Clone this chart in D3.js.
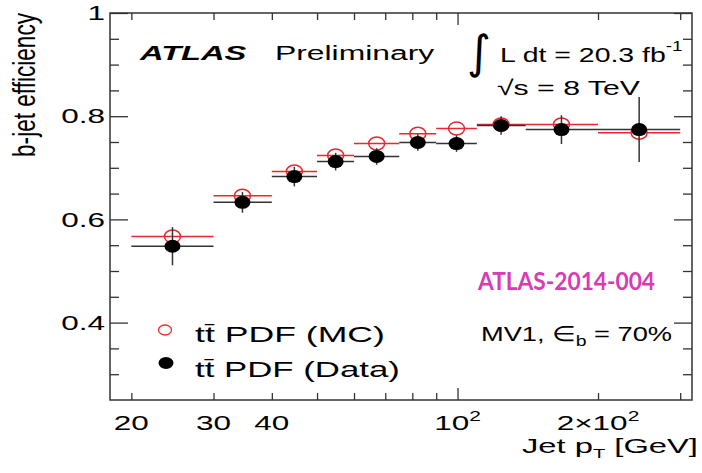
<!DOCTYPE html>
<html lang="en">
<head>
<meta charset="UTF-8">
<title>b-jet efficiency vs jet pT</title>
<script src="https://cdn.jsdelivr.net/npm/d3@7"></script>
<style>
  body { margin: 0; background: #fff; }
  svg { display: block; font-family: "Liberation Sans", Arial, sans-serif; }
</style>
</head>
<body>
<svg width="702" height="473"></svg>
<script>
// jet pT bins [GeV] and efficiencies
var binLo = [20, 30, 40, 50, 60, 75, 90, 110, 140, 200]
var binHi = [30, 40, 50, 60, 75, 90, 110, 140, 200, 300]
var binMid = [24.5, 34.6, 44.7, 54.8, 67.1, 82.2, 99.5, 124, 167, 245]
var dataEff = [0.548, 0.633, 0.683, 0.712, 0.722, 0.749, 0.747, 0.782, 0.774, 0.774]
var dataErr = [0.037, 0.020, 0.019, 0.017, 0.016, 0.016, 0.016, 0.018, 0.028, 0.063]
var mcEff = [0.567, 0.646, 0.693, 0.724, 0.747, 0.766, 0.776, 0.784, 0.784, 0.768]

var yMajor = [0.4, 0.6, 0.8, 1]
var yMinor = [0.3, 0.35, 0.45, 0.5, 0.55, 0.65, 0.7, 0.75, 0.85, 0.9, 0.95]
var xMajor = [100]
var xMinor = [20, 30, 40, 50, 60, 70, 80, 90, 200, 300]
var xLabelVals = [20, 30, 40, 100, 200]
var xLabelBase = ["20", "30", "40", "10", "2\u00d710"]
var xLabelSup = ["", "", "", "2", "2"]

var frame = { left: 110, right: 692, top: 13, bottom: 400 }
var ink = '#333'
var red = '#e8282e'
var sx = 1.5   // the source picture is stretched sideways

var svg = d3.select('svg')
svg.append('rect').attr('width', 702).attr('height', 473).attr('fill', '#fff')

var x = d3.scaleLog().domain([18, 318]).range([frame.left, frame.right])
var y = d3.scaleLinear().domain([0.25, 1]).range([frame.bottom, frame.top])

function ticks(axis, tx, ty) {
    var g = svg.append('g')
        .attr('transform', `translate(${tx},${ty})`)
        .call(axis)
    g.select('.domain').remove()
    g.selectAll('line').attr('stroke', ink).attr('stroke-width', 1.3)
    return g
}

// ticks on all four sides, pointing inward
ticks(d3.axisLeft(y).tickValues(yMinor).tickSize(-9).tickFormat(''), frame.left, 0)
ticks(d3.axisRight(y).tickValues(yMinor).tickSize(-9).tickFormat(''), frame.right, 0)
ticks(d3.axisRight(y).tickValues(yMajor).tickSize(-18).tickFormat(''), frame.right, 0)
var yl = ticks(d3.axisLeft(y).tickValues(yMajor).tickSize(-18).tickPadding(5)
    .tickFormat(d => d === 1 ? '1' : d3.format('.1f')(d)), frame.left, 0)
yl.selectAll('text')
    .attr('font-size', 21)
    .attr('fill', '#000')
    .attr('font-family', '"Liberation Sans", Arial, sans-serif')
    .attr('x', -5 / sx)
    .attr('transform', `scale(${sx},1)`)

ticks(d3.axisBottom(x).tickValues(xMinor).tickSize(-7).tickFormat(''), 0, frame.bottom)
ticks(d3.axisBottom(x).tickValues(xMajor).tickSize(-12).tickFormat(''), 0, frame.bottom)
ticks(d3.axisTop(x).tickValues(xMinor).tickSize(-7).tickFormat(''), 0, frame.top)
ticks(d3.axisTop(x).tickValues(xMajor).tickSize(-12).tickFormat(''), 0, frame.top)

svg.append('rect')
    .attr('x', frame.left).attr('y', frame.top)
    .attr('width', frame.right - frame.left).attr('height', frame.bottom - frame.top)
    .attr('fill', 'none').attr('stroke', ink).attr('stroke-width', 1.5)

// x tick labels with superscripts
xLabelVals.forEach((v, i) => {
    var t = svg.append('text')
        .attr('transform', `translate(${x(v)},430) scale(${sx},1)`)
        .attr('text-anchor', 'middle')
        .attr('font-size', 21)
        .attr('fill', '#000')
    t.append('tspan').text(xLabelBase[i])
    if (xLabelSup[i]) t.append('tspan').attr('dy', -9).attr('font-size', 14).text(xLabelSup[i])
})

// MC: red horizontal bars + open circles
svg.selectAll('.mcbar').data(mcEff).join('line')
    .attr('x1', (d, i) => x(binLo[i])).attr('x2', (d, i) => x(binHi[i]))
    .attr('y1', d => y(d)).attr('y2', d => y(d))
    .attr('stroke', red).attr('stroke-width', 1.5)
svg.selectAll('.mcpt').data(mcEff).join('ellipse')
    .attr('cx', (d, i) => x(binMid[i])).attr('cy', d => y(d))
    .attr('rx', 8).attr('ry', 6.5)
    .attr('fill', 'none').attr('stroke', red).attr('stroke-width', 1.5)

// data: black bars, error bars and filled dots
svg.selectAll('.dbar').data(dataEff).join('line')
    .attr('x1', (d, i) => x(binLo[i])).attr('x2', (d, i) => x(binHi[i]))
    .attr('y1', d => y(d)).attr('y2', d => y(d))
    .attr('stroke', ink).attr('stroke-width', 1.5)
svg.selectAll('.derr').data(dataEff).join('line')
    .attr('x1', (d, i) => x(binMid[i])).attr('x2', (d, i) => x(binMid[i]))
    .attr('y1', (d, i) => y(d + dataErr[i])).attr('y2', (d, i) => y(d - dataErr[i]))
    .attr('stroke', ink).attr('stroke-width', 1.5)
svg.selectAll('.dpt').data(dataEff).join('ellipse')
    .attr('cx', (d, i) => x(binMid[i])).attr('cy', d => y(d))
    .attr('rx', 8).attr('ry', 6.5)
    .attr('fill', '#000')

// text placed by left edge + baseline, squeezed to the measured width
function label(px, py, width, size, build) {
    var g = svg.append('g')
    var t = g.append('text').attr('font-size', size).attr('fill', '#000')
    build(t)
    var w = t.node().getBBox().width
    g.attr('transform', `translate(${px},${py}) scale(${width / w},1)`)
    return t
}

label(140, 60, 108, 21, t => t.attr('font-weight', 'bold').attr('font-style', 'italic').text('ATLAS'))
label(275, 60, 160, 21, t => t.text('Preliminary'))
svg.append('text')
    .attr('x', 467).attr('y', 68)
    .attr('font-size', 46).attr('fill', '#000')
    .attr('font-family', '"DejaVu Sans", sans-serif')
    .text('\u222b')
label(500, 62, 183, 21, t => {
    t.append('tspan').text('L dt = 20.3 fb')
    t.append('tspan').attr('dy', -11).attr('font-size', 14).text('-1')
})
label(497, 95, 143, 21, t => t.text('\u221as = 8 TeV'))

label(478, 290, 178, 25, t => t
    .attr('font-family', 'Lato, "Open Sans", sans-serif')
    .attr('font-weight', 'bold').attr('fill', '#d83bb4')
    .text('ATLAS-2014-004'))

label(481, 341, 191, 21, t => {
    t.append('tspan').text('MV1, \u2208')
    t.append('tspan').attr('dy', 5).attr('font-size', 15).text('b')
    t.append('tspan').attr('dy', -5).text(' = 70%')
})

// legend
svg.append('ellipse').attr('cx', 165).attr('cy', 330).attr('rx', 6.5).attr('ry', 5)
    .attr('fill', 'none').attr('stroke', red).attr('stroke-width', 1.3)
svg.append('ellipse').attr('cx', 166).attr('cy', 363).attr('rx', 7.5).attr('ry', 6)
    .attr('fill', '#000')
label(195, 342, 190, 23, t => t.text('tt\u0304 PDF (MC)'))
label(195, 377, 205, 23, t => t.text('tt\u0304 PDF (Data)'))

// axis titles
label(522, 453, 176, 21, t => {
    t.append('tspan').text('Jet p')
    t.append('tspan').attr('dy', 5).attr('font-size', 13).text('T')
    t.append('tspan').attr('dy', -5).text(' [GeV]')
})

var yt = svg.append('text')
    .attr('font-size', 22).attr('fill', '#000')
    .attr('text-anchor', 'end')
    .text('b-jet efficiency')
var yw = yt.node().getComputedTextLength()
yt.attr('transform', `translate(35,13) rotate(-90) scale(${144 / yw},1.4)`)
</script>
</body>
</html>
